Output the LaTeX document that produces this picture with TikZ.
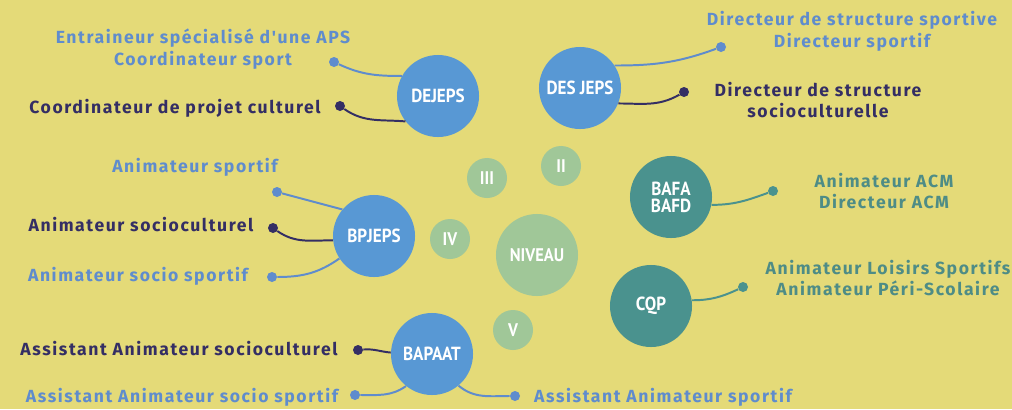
\documentclass[tikz,border=0pt]{standalone}
\usepackage{fontspec}
\usepackage{tikz}
\usetikzlibrary{positioning}
\newfontfamily\lblfont[LetterSpace=9]{Fira Sans}
\newfontfamily\circfont[FakeStretch=0.9]{PT Sans}
\definecolor{bgyellow}{RGB}{228, 218, 120}
\definecolor{diplblue}{RGB}{88, 152, 212}
\definecolor{dipteal}{RGB}{74, 146, 142}
\definecolor{lvlgreen}{RGB}{160, 199, 152}
\definecolor{navy}{RGB}{52, 46, 100}
\definecolor{skyblue}{RGB}{95, 140, 205}
\definecolor{tealtext}{RGB}{78, 140, 134}
\tikzstyle{diplome} = [
    circle,
    minimum size=2.05cm,
    inner sep=0pt,
    text=white,
    font=\circfont\bfseries\fontsize{13.5}{15}\selectfont
]
\tikzstyle{niveau} = [
    circle,
    minimum size=1cm,
    inner sep=0pt,
    fill=lvlgreen,
    text=white,
    font=\circfont\bfseries\fontsize{13}{15}\selectfont
]
\tikzstyle{dot} = [
    circle,
    minimum size=0.25cm,
    inner sep=0pt
]
\tikzstyle{metier} = [
    align=center,
    inner sep=0pt,
    font=\lblfont\bfseries\fontsize{12.5}{15.6}\selectfont
]
\tikzstyle{link} = [
    line width=1.4pt
]

\begin{document}
\begin{tikzpicture}[x=0.025cm, y=-0.025cm]
    \fill[bgyellow] (0,0) rectangle (1012,409);

    % niveaux
    \node[niveau] (n2) at (561,166) {II};
    \node[niveau] (n3) at (487,178) {III};
    \node[niveau] (n4) at (450,239) {IV};
    \node[niveau] (n5) at (513,330) {V};
    \node[niveau, minimum size=2.05cm] (niv) at (537,255) {NIVEAU};

    % diplomes
    \node[diplome, fill=diplblue] (dejeps) at (438,96) {DEJEPS};
    \node[diplome, fill=diplblue] (desjeps) at (580,88) {DES JEPS};
    \node[diplome, fill=diplblue] (bpjeps) at (374,236) {BPJEPS};
    \node[diplome, fill=diplblue] (bapaat) at (432,354) {BAPAAT};
    \node[diplome, fill=dipteal, align=center] (bafa) at (671,197) {BAFA\\[-3pt]BAFD};
    \node[diplome, fill=dipteal] (cqp) at (651,306) {CQP};

    % DEJEPS
    \node[dot, fill=skyblue] (dej1) at (334,62) {};
    \node[dot, fill=navy] (dej2) at (340,106) {};
    \node[metier, text=skyblue] (dejt1) at (203,49) {Entraineur spécialisé d'une APS\\Coordinateur sport};
    \node[metier, text=navy] (dejt2) at (175,108) {Coordinateur de projet culturel};
    \draw[link, skyblue] (dej1) to[out=-25, in=180] (dejeps.151);
    \draw[link, navy] (dej2) to[out=-35, in=175] (dejeps.218);

    % DES JEPS
    \node[dot, fill=skyblue] (des1) at (721,47) {};
    \node[dot, fill=navy] (des2) at (684,92) {};
    \node[metier, text=skyblue] (dest1) at (852,31) {Directeur de structure sportive\\Directeur sportif};
    \node[metier, text=navy] (dest2) at (818,100) {Directeur de structure\\socioculturelle};
    \draw[link, skyblue] (desjeps.33) to[out=0, in=200] (des1);
    \draw[link, navy] (desjeps.-22) to[out=0, in=210] (des2);

    % BAFA / BAFD
    \node[dot, fill=dipteal] (baf1) at (773,191) {};
    \node[metier, text=tealtext] (baft1) at (884,191) {Animateur ACM\\Directeur ACM};
    \draw[link, dipteal] (bafa.-11) to[out=0, in=200] (baf1);

    % CQP
    \node[dot, fill=dipteal] (cqp1) at (743,287) {};
    \node[metier, text=tealtext] (cqpt1) at (888,278) {Animateur Loisirs Sportifs\\Animateur Péri-Scolaire};
    \draw[link, dipteal] (cqp.8) to[out=0, in=205] (cqp1);

    % BPJEPS
    \node[dot, fill=skyblue] (bpj1) at (277,192) {};
    \node[dot, fill=navy] (bpj2) at (273,228) {};
    \node[dot, fill=skyblue] (bpj3) at (272,277) {};
    \node[metier, text=skyblue] (bpjt1) at (195,167) {Animateur sportif};
    \node[metier, text=navy] (bpjt2) at (141,225) {Animateur socioculturel};
    \node[metier, text=skyblue] (bpjt3) at (138,276) {Animateur socio sportif};
    \draw[link, skyblue] (bpj1) to[out=-15, in=165] (bpjeps.140);
    \draw[link, navy] (bpj2) to[out=-35, in=180] (bpjeps.186);
    \draw[link, skyblue] (bpj3) to[out=0, in=215] (bpjeps.213);

    % BAPAAT
    \node[dot, fill=navy] (bap1) at (358,350) {};
    \node[dot, fill=skyblue] (bap2) at (355,395) {};
    \node[dot, fill=skyblue] (bap3) at (515,396) {};
    \node[metier, text=navy] (bapt1) at (179,349) {Assistant Animateur socioculturel};
    \node[metier, text=skyblue] (bapt2) at (182,397) {Assistant Animateur socio sportif};
    \node[metier, text=skyblue] (bapt3) at (663,397) {Assistant Animateur sportif};
    \draw[link, navy] (bap1) to[out=5, in=175] (bapaat.178);
    \draw[link, skyblue] (bap2) to[out=0, in=215] (bapaat.231);
    \draw[link, skyblue] (bapaat.-50) to[out=-40, in=180] (bap3);
\end{tikzpicture}
\end{document}
